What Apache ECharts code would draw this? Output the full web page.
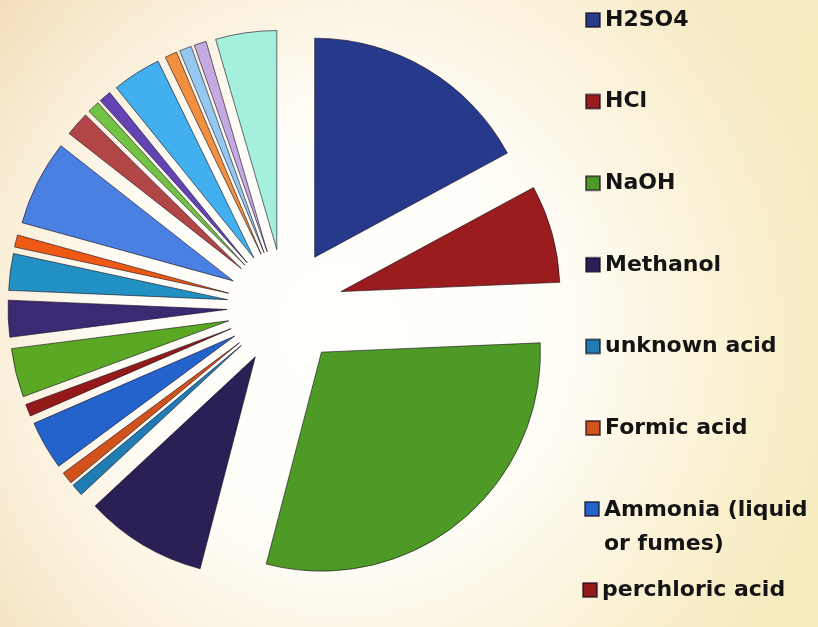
<!DOCTYPE html>
<html>
<head>
<meta charset="utf-8">
<script src="https://cdn.jsdelivr.net/npm/echarts@6/dist/echarts.min.js"></script>
<style>
html,body{margin:0;padding:0;background:#fff;}
#chart{width:818px;height:627px;}
</style>
</head>
<body>
<div id="chart"></div>
<script>
// Slices clockwise from the top (counts)
const categories = [
  'H2SO4', 'HCl', 'NaOH', 'Methanol', 'unknown acid', 'Formic acid',
  'Ammonia (liquid or fumes)', 'perchloric acid',
  'Chemical 9', 'Chemical 10', 'Chemical 11', 'Chemical 12', 'Chemical 13',
  'Chemical 14', 'Chemical 15', 'Chemical 16', 'Chemical 17', 'Chemical 18',
  'Chemical 19', 'Chemical 20', 'Chemical 21'
];
const values = [19, 8, 33, 10, 1, 1, 4, 1, 4, 3, 3, 1, 7, 2, 1, 1, 4, 1, 1, 1, 5];
const colors = [
  '#26398a', '#9a1c1c', '#4e9a26', '#2a2056', '#1f7db4', '#d2521c',
  '#2462cc', '#931a18', '#5aa824', '#3a2a72', '#2190c2', '#ee5a14',
  '#4a80e2', '#b24646', '#72c244', '#6444b4', '#42b0ee', '#f29040',
  '#94c8f0', '#c4aae0', '#a4f0dc'
];
const legendTop = categories.slice(0, 6);
const legendAmmonia = [categories[6]];
const legendLast = [categories[7]];

const chart = echarts.init(document.getElementById('chart'), null, {renderer: 'canvas'});

function textStyle(lh) {
  return {
    fontFamily: 'DejaVu Sans',
    fontWeight: 'bold',
    fontSize: 22,
    color: '#141414',
    lineHeight: lh
  };
}

chart.setOption({
  animation: false,
  backgroundColor: {
    type: 'linear', x: 0, y: 0, x2: 1, y2: 0.3,
    colorStops: [
      {offset: 0, color: '#f1d9b2'},
      {offset: 0.5, color: '#f6e8cc'},
      {offset: 1, color: '#f7ecbf'}
    ]
  },
  graphic: [{
    type: 'circle', z: -10, silent: true,
    shape: {cx: 340, cy: 330, r: 520},
    style: {
      fill: {
        type: 'radial', x: 0.5, y: 0.5, r: 0.5,
        colorStops: [
          {offset: 0, color: 'rgba(255,255,253,1)'},
          {offset: 0.45, color: 'rgba(255,254,248,0.95)'},
          {offset: 0.75, color: 'rgba(253,248,232,0.5)'},
          {offset: 1, color: 'rgba(250,240,215,0)'}
        ]
      }
    }
  }],
  legend: [
    {
      data: legendTop, orient: 'vertical', left: 585, top: 4.5, padding: 0,
      icon: 'rect', itemWidth: 14, itemHeight: 14, itemGap: 50.6,
      selectedMode: false, textStyle: textStyle(31)
    },
    {
      data: legendAmmonia.map(n => ({name: n, icon: 'path://M0,0L14,0L14,14L0,14ZM0,50'})),
      orient: 'vertical', left: 584, top: 493, padding: 0,
      itemWidth: 14, itemHeight: 50,
      selectedMode: false, textStyle: textStyle(34),
      formatter: function (name) {
        return name === 'Ammonia (liquid or fumes)' ? 'Ammonia (liquid\nor fumes)' : name;
      }
    },
    {
      data: legendLast, orient: 'vertical', left: 582, top: 574.5, padding: 0,
      icon: 'rect', itemWidth: 14, itemHeight: 14,
      selectedMode: false, textStyle: textStyle(31)
    }
  ],
  series: [{
    type: 'pie',
    center: [285, 307],
    radius: 219,
    startAngle: 90,
    clockwise: true,
    selectedMode: 'multiple',
    selectedOffset: 58,
    label: {show: false},
    labelLine: {show: false},
    emphasis: {disabled: true},
    itemStyle: {borderColor: 'rgba(20,10,30,0.6)', borderWidth: 1},
    data: categories.map((n, i) => ({
      name: n,
      value: values[i],
      selected: true,
      itemStyle: {color: colors[i]}
    }))
  }]
});
</script>
</body>
</html>
